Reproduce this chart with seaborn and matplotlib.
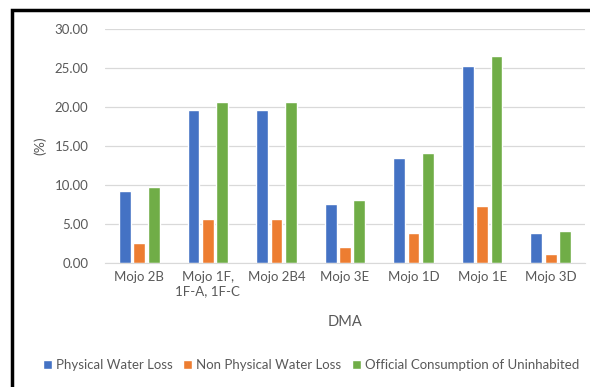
import matplotlib
matplotlib.use("Agg")
import matplotlib.pyplot as plt
import pandas as pd
import seaborn as sns
from matplotlib.patches import Rectangle

dma = ["Mojo 2B", "Mojo 1F,\n1F-A, 1F-C", "Mojo 2B4", "Mojo 3E", "Mojo 1D", "Mojo 1E", "Mojo 3D"]
physical = [9.25, 19.6, 19.6, 7.55, 13.42, 25.25, 3.9]
non_physical = [2.62, 5.58, 5.58, 2.1, 3.82, 7.29, 1.12]
official = [9.77, 20.66, 20.66, 8.06, 14.1, 26.6, 4.07]
series = ["Physical Water Loss", "Non Physical Water Loss", "Official Consumption of Uninhabited"]
colors = ["#4472C4", "#ED7D31", "#70AD47"]

rows = []
for name, vals in zip(series, [physical, non_physical, official]):
    for d, v in zip(dma, vals):
        rows.append({"DMA": d, "series": name, "value": v})
df = pd.DataFrame(rows)

sns.set_style("white")
plt.rcParams["font.family"] = ["Lato", "DejaVu Sans"]
text_color = "#595959"

fig = plt.figure(figsize=(5.9, 3.87), dpi=100)
ax = fig.add_axes([105 / 590, 1 - 263 / 387, 480 / 590, 234 / 387])
sns.barplot(data=df, x="DMA", y="value", hue="series", palette=colors,
            saturation=1, width=0.63, gap=0.18, ax=ax, legend=True)

ax.set_ylim(0, 30)
ax.set_yticks([0, 5, 10, 15, 20, 25, 30])
ax.set_yticklabels([f"{t:.2f}" for t in [0, 5, 10, 15, 20, 25, 30]])
ax.grid(axis="y", color="#d9d9d9", lw=0.9)
ax.set_axisbelow(True)
for s in ["top", "right", "left"]:
    ax.spines[s].set_visible(False)
ax.spines["bottom"].set_color("#d9d9d9")
ax.tick_params(axis="both", length=0, labelsize=9.5, colors=text_color, pad=6)
ax.tick_params(axis="y", pad=12)
ax.set_xlabel("DMA", fontsize=10.5, color=text_color, labelpad=13)
ax.set_ylabel("(%)", fontsize=10, color=text_color, labelpad=6)

handles, labels = ax.get_legend_handles_labels()
ax.get_legend().remove()
fig.legend(handles, labels, loc="center", bbox_to_anchor=(311 / 590, 1 - 365 / 387),
           ncol=3, frameon=False, fontsize=9.5, handlelength=0.7, handleheight=0.7,
           handletextpad=0.3, columnspacing=0.8, labelcolor=text_color)

fig.patches.append(Rectangle((12 / 590, -0.05), 1.0, 1 - 10 / 387 + 0.05,
                             transform=fig.transFigure, fill=False,
                             edgecolor="black", lw=2.5))
fig.savefig("out.png", dpi=100)
